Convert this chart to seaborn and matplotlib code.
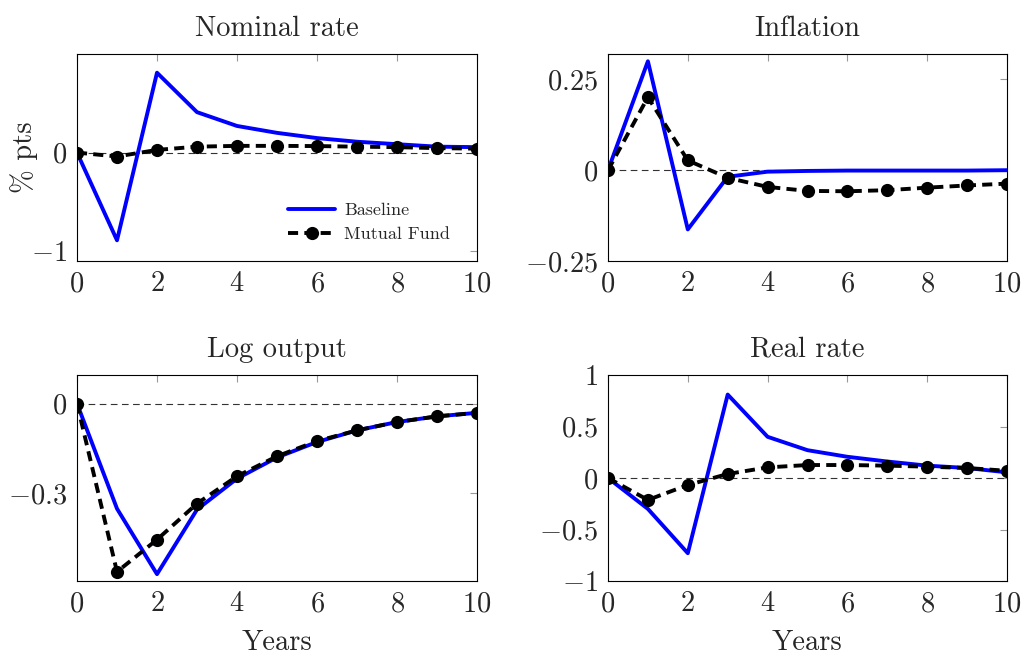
import matplotlib
matplotlib.use("Agg")
import matplotlib.pyplot as plt
import seaborn as sns
import pandas as pd

years = list(range(11))

nominal_baseline = [0.0, -0.89, 0.81, 0.41, 0.27, 0.20, 0.147, 0.11, 0.085, 0.06, 0.055]
nominal_mutual = [0.0, -0.04, 0.027, 0.06, 0.068, 0.068, 0.066, 0.06, 0.055, 0.045, 0.04]

inflation_baseline = [0.0, 0.30, -0.163, -0.018, -0.004, -0.002, -0.001, -0.001, -0.001, -0.001, 0.0]
inflation_mutual = [0.0, 0.201, 0.027, -0.021, -0.046, -0.057, -0.058, -0.055, -0.048, -0.042, -0.037]

output_baseline = [0.0, -0.353, -0.573, -0.356, -0.252, -0.181, -0.129, -0.090, -0.062, -0.043, -0.031]
output_mutual = [0.0, -0.565, -0.457, -0.336, -0.244, -0.177, -0.126, -0.090, -0.062, -0.043, -0.031]

real_baseline = [0.0, -0.30, -0.73, 0.81, 0.40, 0.27, 0.206, 0.16, 0.12, 0.097, 0.055]
real_mutual = [0.0, -0.213, -0.068, 0.039, 0.103, 0.126, 0.126, 0.12, 0.11, 0.097, 0.07]

titles = ["Nominal rate", "Inflation", "Log output", "Real rate"]
series_names = ["Baseline", "Mutual Fund"]
x_ticks = [0, 2, 4, 6, 8, 10]
y_ticks = [[-1, 0], [-0.25, 0, 0.25], [-0.3, 0], [-1, -0.5, 0, 0.5, 1]]
y_ticklabels = [[r"$-1$", r"$0$"],
                [r"$-0.25$", r"$0$", r"$0.25$"],
                [r"$-0.3$", r"$0$"],
                [r"$-1$", r"$-0.5$", r"$0$", r"$0.5$", r"$1$"]]
y_limits = [(-1.10, 1.0), (-0.25, 0.32), (-0.596, 0.096), (-1.0, 1.0)]

sns.set_theme(style="white")
plt.rcParams["font.family"] = ["cmr10", "DejaVu Serif"]
plt.rcParams["mathtext.fontset"] = "cm"
plt.rcParams["axes.unicode_minus"] = True
plt.rcParams["axes.formatter.use_mathtext"] = True

fig = plt.figure(figsize=(10.27, 6.57), dpi=100)
W, H = 1027, 657
boxes = [(77, 54, 477, 261), (608, 54, 1007, 261), (77, 375, 477, 581), (608, 375, 1007, 581)]

data = [(nominal_baseline, nominal_mutual), (inflation_baseline, inflation_mutual),
        (output_baseline, output_mutual), (real_baseline, real_mutual)]

fs = 20.5
for i, (box, (base, mut)) in enumerate(zip(boxes, data)):
    x0, y0, x1, y1 = box
    ax = fig.add_axes([x0 / W, 1 - y1 / H, (x1 - x0) / W, (y1 - y0) / H])
    df = pd.DataFrame({"Years": years, "base": base, "mut": mut})
    ax.axhline(0, color="#333333", lw=0.8, ls=(0, (6, 4)), zorder=1)
    sns.lineplot(data=df, x="Years", y="base", ax=ax, color="#0000ff", lw=2.8,
                 label=series_names[0], zorder=3)
    sns.lineplot(data=df, x="Years", y="mut", ax=ax, color="black", lw=2.8,
                 linestyle=(0, (2.6, 1.6)), marker="o", markersize=9.5,
                 markeredgewidth=0, label=series_names[1], zorder=4)
    ax.set_xlim(0, 10)
    ax.set_ylim(*y_limits[i])
    ax.set_xticks(x_ticks, [rf"${t}$" for t in x_ticks])
    ax.set_yticks(y_ticks[i], y_ticklabels[i])
    ax.tick_params(direction="in", length=5, width=0.8, color="#999999",
                   labelsize=fs, top=True, right=True, pad=7)
    for sp in ax.spines.values():
        sp.set_color("black")
        sp.set_linewidth(0.8)
    ax.set_title(titles[i], fontsize=fs, pad=13)
    ax.set_ylabel("")
    ax.set_xlabel("")
    if i == 0:
        ax.set_ylabel("% pts", fontsize=fs)
        ax.yaxis.set_label_coords(-0.098, 0.5)
        ax.legend(loc="lower right", frameon=False, fontsize=13,
                  handlelength=2.6, handletextpad=0.5, borderaxespad=0.2,
                  labelspacing=0.45, bbox_to_anchor=(0.96, 0.04))
    else:
        leg = ax.get_legend()
        if leg is not None:
            leg.remove()
    if i >= 2:
        ax.set_xlabel("Years", fontsize=fs, labelpad=9)

fig.savefig("out.png", dpi=100)
